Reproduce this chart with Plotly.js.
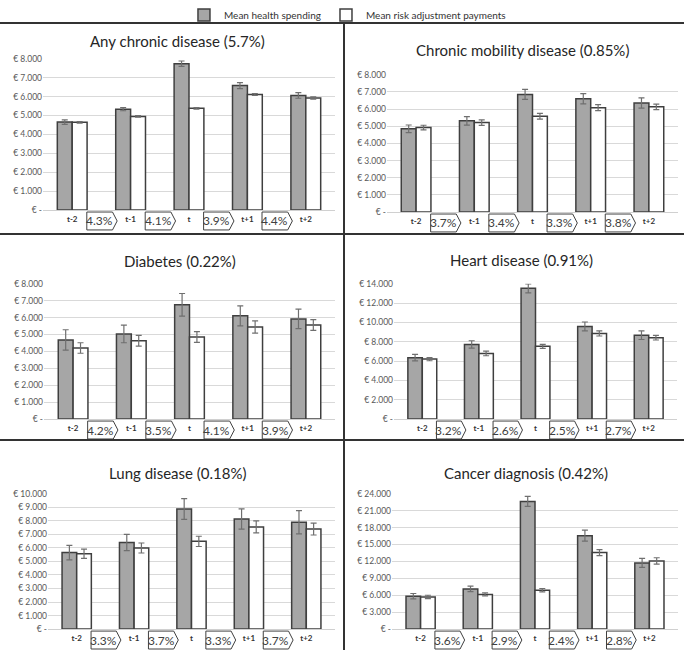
<!DOCTYPE html>
<html>
<head>
<meta charset="utf-8">
<script src="https://cdn.plot.ly/plotly-3.0.1.min.js"></script>
<style>html,body{margin:0;padding:0;background:#fff;}#chart{width:684px;height:650px;}</style>
</head>
<body>
<div id="chart"></div>
<script>
// ---------- DATA ----------
const periods = ['t-2', 't-1', 't', 't+1', 't+2'];
const seriesNames = ['Mean health spending', 'Mean risk adjustment payments'];

const titles = [
  'Any chronic disease (5.7%)',
  'Chronic mobility disease (0.85%)',
  'Diabetes (0.22%)',
  'Heart disease (0.91%)',
  'Lung disease (0.18%)',
  'Cancer diagnosis (0.42%)'
];

// Any chronic disease
const spendAny = [4650, 5330, 7740, 6580, 6060];
const spendAnyErr = [120, 80, 140, 160, 150];
const payAny = [4640, 4950, 5380, 6110, 5920];
const payAnyErr = [40, 40, 40, 50, 60];
const pctAny = ['4.3%', '4.1%', '3.9%', '4.4%'];

// Chronic mobility disease
const spendMob = [4850, 5310, 6850, 6600, 6350];
const spendMobErr = [220, 250, 290, 300, 300];
const payMob = [4920, 5210, 5580, 6080, 6130];
const payMobErr = [135, 160, 170, 170, 160];
const pctMob = ['3.7%', '3.4%', '3.3%', '3.8%'];

// Diabetes
const spendDia = [4680, 5030, 6750, 6100, 5920];
const spendDiaErr = [600, 520, 670, 590, 575];
const payDia = [4200, 4630, 4850, 5440, 5560];
const payDiaErr = [310, 320, 320, 360, 320];
const pctDia = ['4.2%', '3.5%', '4.1%', '3.9%'];

// Heart disease
const spendHeart = [6350, 7720, 13520, 9580, 8680];
const spendHeartErr = [340, 380, 460, 460, 450];
const payHeart = [6200, 6790, 7520, 8860, 8420];
const payHeartErr = [170, 240, 200, 270, 240];
const pctHeart = ['3.2%', '2.6%', '2.5%', '2.7%'];

// Lung disease
const spendLung = [5650, 6390, 8870, 8130, 7890];
const spendLungErr = [530, 600, 770, 750, 860];
const payLung = [5560, 5990, 6480, 7550, 7390];
const payLungErr = [340, 370, 380, 440, 440];
const pctLung = ['3.3%', '3.7%', '3.3%', '3.7%'];

// Cancer diagnosis
const spendCancer = [5840, 7130, 22640, 16570, 11730];
const spendCancerErr = [470, 500, 880, 970, 800];
const payCancer = [5700, 6150, 6900, 13560, 12090];
const payCancerErr = [300, 270, 300, 530, 560];
const pctCancer = ['3.6%', '2.9%', '2.4%', '2.8%'];

// y-axis ticks
const ticks8k = [0, 1000, 2000, 3000, 4000, 5000, 6000, 7000, 8000];
const ticks8kText = ['€ -', '€ 1.000', '€ 2.000', '€ 3.000', '€ 4.000', '€ 5.000', '€ 6.000', '€ 7.000', '€ 8.000'];
const ticks14k = [0, 2000, 4000, 6000, 8000, 10000, 12000, 14000];
const ticks14kText = ['€ -', '€ 2.000', '€ 4.000', '€ 6.000', '€ 8.000', '€ 10.000', '€ 12.000', '€ 14.000'];
const ticks10k = [0, 1000, 2000, 3000, 4000, 5000, 6000, 7000, 8000, 9000, 10000];
const ticks10kText = ['€ -', '€ 1.000', '€ 2.000', '€ 3.000', '€ 4.000', '€ 5.000', '€ 6.000', '€ 7.000', '€ 8.000', '€ 9.000', '€ 10.000'];
const ticks24k = [0, 3000, 6000, 9000, 12000, 15000, 18000, 21000, 24000];
const ticks24kText = ['€ -', '€ 3.000', '€ 6.000', '€ 9.000', '€ 12.000', '€ 15.000', '€ 18.000', '€ 21.000', '€ 24.000'];

// ---------- LAYOUT (pixel boxes) ----------
const W = 684, H = 650;
const FONT = 'Lato, "Open Sans", sans-serif';
const panels = [
  {spend: spendAny, spendErr: spendAnyErr, pay: payAny, payErr: payAnyErr, pct: pctAny, tv: ticks8k, tt: ticks8kText, x0: 43, x1: 335, yTop: 56, yBot: 208, tx: 177, ty: 38},
  {spend: spendMob, spendErr: spendMobErr, pay: payMob, payErr: payMobErr, pct: pctMob, tv: ticks8k, tt: ticks8kText, x0: 387, x1: 678, yTop: 72, yBot: 210, tx: 522, ty: 47},
  {spend: spendDia, spendErr: spendDiaErr, pay: payDia, payErr: payDiaErr, pct: pctDia, tv: ticks8k, tt: ticks8kText, x0: 44, x1: 335, yTop: 282, yBot: 418, tx: 180, ty: 259},
  {spend: spendHeart, spendErr: spendHeartErr, pay: payHeart, payErr: payHeartErr, pct: pctHeart, tv: ticks14k, tt: ticks14kText, x0: 394, x1: 677, yTop: 282, yBot: 418, tx: 521, ty: 258},
  {spend: spendLung, spendErr: spendLungErr, pay: payLung, payErr: payLungErr, pct: pctLung, tv: ticks10k, tt: ticks10kText, x0: 48, x1: 335, yTop: 493, yBot: 629, tx: 177, ty: 472},
  {spend: spendCancer, spendErr: spendCancerErr, pay: payCancer, payErr: payCancerErr, pct: pctCancer, tv: ticks24k, tt: ticks24kText, x0: 392, x1: 678, yTop: 493, yBot: 629, tx: 526, ty: 472}
];

const traces = [];
const layout = {
  width: W, height: H,
  margin: {l: 0, r: 0, t: 0, b: 0},
  paper_bgcolor: '#ffffff',
  plot_bgcolor: '#ffffff',
  barmode: 'group',
  bargap: 0.49,
  bargroupgap: 0,
  showlegend: true,
  legend: {
    orientation: 'h', x: 0.508, xanchor: 'center', y: 1.004, yanchor: 'top',
    font: {family: FONT, size: 10, color: '#333333'},
    itemwidth: 30, tracegroupgap: 0, bgcolor: 'rgba(0,0,0,0)'
  },
  font: {family: FONT},
  shapes: [],
  annotations: []
};

const nCat = periods.length;
const catToDomain = v => (v + 0.5) / nCat;

panels.forEach((p, k) => {
  const n = k + 1;
  const xa = 'x' + (n === 1 ? '' : n);
  const ya = 'y' + (n === 1 ? '' : n);
  const xKey = 'xaxis' + (n === 1 ? '' : n);
  const yKey = 'yaxis' + (n === 1 ? '' : n);
  const ph = p.yBot - p.yTop;

  traces.push({
    type: 'bar', x: periods, y: p.spend, name: seriesNames[0],
    xaxis: xa, yaxis: ya, legendgroup: 'a', showlegend: k === 0,
    marker: {color: '#a6a6a6', line: {color: '#3f3f3f', width: 1.5}},
    error_y: {type: 'data', array: p.spendErr, visible: true, color: '#6f6f6f', thickness: 1.2, width: 3},
    hoverinfo: 'skip'
  });
  traces.push({
    type: 'bar', x: periods, y: p.pay, name: seriesNames[1],
    xaxis: xa, yaxis: ya, legendgroup: 'b', showlegend: k === 0,
    marker: {color: '#ffffff', line: {color: '#3f3f3f', width: 1.5}},
    error_y: {type: 'data', array: p.payErr, visible: true, color: '#6f6f6f', thickness: 1.2, width: 3},
    hoverinfo: 'skip'
  });

  layout[xKey] = {
    domain: [p.x0 / W, p.x1 / W],
    anchor: ya,
    type: 'category',
    range: [-0.5, nCat - 0.5],
    showgrid: false, zeroline: false, showline: false, ticks: '',
    ticklabelstandoff: 3,
    tickfont: {family: FONT, size: 8, color: '#333333', weight: 'bold'},
    fixedrange: true
  };
  layout[yKey] = {
    domain: [1 - p.yBot / H, 1 - p.yTop / H],
    anchor: xa,
    range: [0, p.tv[p.tv.length - 1]],
    tickmode: 'array', tickvals: p.tv, ticktext: p.tt,
    showgrid: true, gridcolor: '#d9d9d9', gridwidth: 1,
    zeroline: true, zerolinecolor: '#d0d0d0', zerolinewidth: 1,
    showline: false, ticks: '',
    tickfont: {family: FONT, size: 8.5, color: '#595959'},
    fixedrange: true
  };

  // title
  layout.annotations.push({
    text: titles[k], xref: 'paper', yref: 'paper',
    x: p.tx / W, y: 1 - p.ty / H, xanchor: 'center', yanchor: 'middle',
    showarrow: false, font: {family: FONT, size: 15, color: '#262626'}
  });

  // arrow boxes between periods
  const top = -2 / ph, bot = -20 / ph, mid = (top + bot) / 2;
  p.pct.forEach((txt, i) => {
    const c = i + 0.5;
    const l = catToDomain(c - 0.25), s = catToDomain(c + 0.19), t = catToDomain(c + 0.27);
    layout.shapes.push({
      type: 'path', xref: xa + ' domain', yref: ya + ' domain',
      path: `M${l},${top} L${s},${top} L${t},${mid} L${s},${bot} L${l},${bot} Z`,
      line: {color: '#404040', width: 1}, fillcolor: '#ffffff', layer: 'above'
    });
    layout.annotations.push({
      text: txt, xref: xa + ' domain', yref: ya + ' domain',
      x: catToDomain(c - 0.03), y: mid, xanchor: 'center', yanchor: 'middle',
      showarrow: false, font: {family: FONT, size: 12, color: '#404040'}
    });
  });
});

// panel dividers
const lineStyle = {color: '#333333', width: 2};
layout.shapes.push({type: 'line', xref: 'paper', yref: 'paper', x0: 0, x1: 1, y0: 1 - 20 / H, y1: 1 - 20 / H, line: lineStyle});
layout.shapes.push({type: 'line', xref: 'paper', yref: 'paper', x0: 344 / W, x1: 344 / W, y0: 0, y1: 1 - 20 / H, line: lineStyle});
layout.shapes.push({type: 'line', xref: 'paper', yref: 'paper', x0: 0, x1: 1, y0: 1 - 232 / H, y1: 1 - 232 / H, line: lineStyle});
layout.shapes.push({type: 'line', xref: 'paper', yref: 'paper', x0: 0, x1: 1, y0: 1 - 439 / H, y1: 1 - 439 / H, line: lineStyle});

Plotly.newPlot('chart', traces, layout, {displayModeBar: false, staticPlot: true});
</script>
</body>
</html>
